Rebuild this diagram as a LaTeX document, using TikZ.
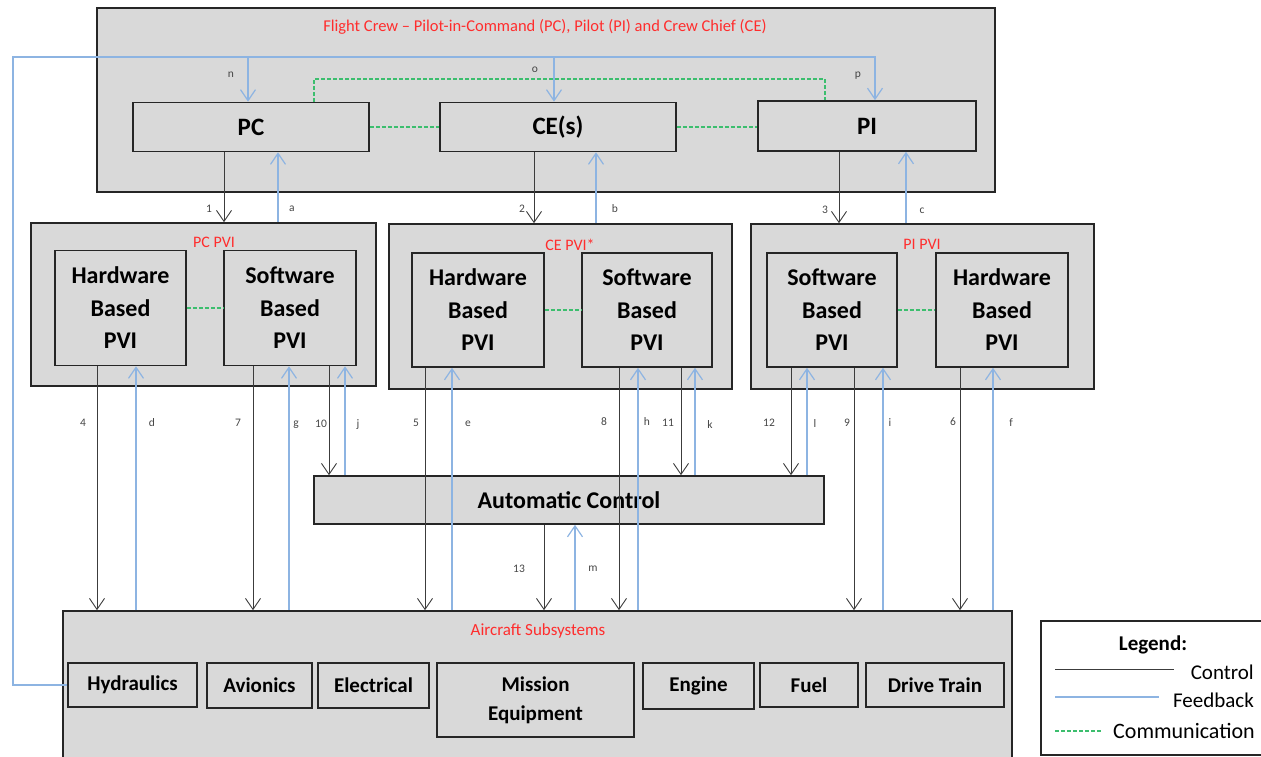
\documentclass[tikz,border=0pt]{standalone}
\usepackage{fontspec}
\setmainfont{Carlito}
\usetikzlibrary{arrows.meta}
\definecolor{boxgray}{RGB}{217,217,217}
\definecolor{ctlc}{RGB}{60,60,60}
\definecolor{fbc}{RGB}{141,180,226}
\definecolor{comc}{RGB}{60,190,110}
\definecolor{redlbl}{RGB}{255,45,45}
\definecolor{lblc}{RGB}{70,70,70}
\begin{document}
\begin{tikzpicture}[x=1pt,y=-1pt,
  panel/.style={draw=black!85, line width=1.6pt, fill=boxgray, inner sep=0pt, rectangle},
  bigtxt/.style={font=\fontsize{25}{30}\selectfont\bfseries},
  pvitxt/.style={font=\fontsize{24}{32.5}\selectfont\bfseries, align=center},
  subtxt/.style={font=\fontsize{21}{29}\selectfont\bfseries, align=center},
  redtxt/.style={text=redlbl, inner sep=0pt},
  tag/.style={font=\fontsize{11.5}{13}\selectfont, text=lblc, inner sep=0pt},
  tip/.style={-{Straight Barb[length=11pt,width=15pt]}},
  ctl/.style={draw=ctlc, line width=0.9pt, tip},
  fb/.style={draw=fbc, line width=1.2pt, tip},
  com/.style={draw=comc, line width=1.8pt, dash pattern=on 4pt off 2pt},
  legtxt/.style={font=\fontsize{21}{25}\selectfont, inner sep=0pt}]
\useasboundingbox (0,0) rectangle (1261,757);

% ---- containers ----
\node[panel, minimum width=898pt, minimum height=184pt] (crew) at (546,100) {};
\node[redtxt, font=\fontsize{16.5}{19}\selectfont] (crewtitle) at (545,27)
  {Flight Crew – Pilot-in-Command (PC), Pilot (PI) and Crew Chief (CE)};

\node[panel, minimum width=345pt, minimum height=163pt] (pcpvi) at (203.5,304.5) {};
\node[redtxt, font=\fontsize{16}{19}\selectfont] (pcpvititle) at (214,242) {PC PVI};
\node[panel, minimum width=343pt, minimum height=165pt] (cepvi) at (560.5,306.5) {};
\node[redtxt, font=\fontsize{16}{19}\selectfont] (cepvititle) at (570,245) {CE PVI*};
\node[panel, minimum width=343pt, minimum height=165pt] (pipvi) at (922.5,306.5) {};
\node[redtxt, font=\fontsize{16}{19}\selectfont] (pipvititle) at (922,244) {PI PVI};

\node[panel, minimum width=949pt, minimum height=170pt] (air) at (537.5,696) {};
\node[redtxt, font=\fontsize{17}{20}\selectfont] (airtitle) at (538,631) {Aircraft Subsystems};

% ---- crew members ----
\node[panel, bigtxt, minimum width=236pt, minimum height=49pt] (pc) at (251,127) {PC};
\node[panel, bigtxt, minimum width=236pt, minimum height=49pt] (ce) at (558,127) {CE(s)};
\node[panel, bigtxt, minimum width=218pt, minimum height=50pt] (pi) at (867,126) {PI};

% ---- pilot-vehicle interfaces ----
\node[panel, pvitxt, minimum width=131pt, minimum height=115pt] (pchw) at (120.5,308) {Hardware\\Based\\PVI};
\node[panel, pvitxt, minimum width=132pt, minimum height=115pt] (pcsw) at (290,308) {Software\\Based\\PVI};
\node[panel, pvitxt, minimum width=132pt, minimum height=114pt] (cehw) at (478,310) {Hardware\\Based\\PVI};
\node[panel, pvitxt, minimum width=130pt, minimum height=114pt] (cesw) at (647,310) {Software\\Based\\PVI};
\node[panel, pvitxt, minimum width=130pt, minimum height=114pt] (pisw) at (832,310) {Software\\Based\\PVI};
\node[panel, pvitxt, minimum width=132pt, minimum height=114pt] (pihw) at (1002,310) {Hardware\\Based\\PVI};

% ---- automatic control ----
\node[panel, font=\fontsize{24}{28}\selectfont\bfseries, minimum width=510pt, minimum height=48pt] (auto) at (569,500) {Automatic Control};

% ---- subsystems ----
\node[panel, subtxt, minimum width=129pt, minimum height=44pt] (hyd) at (132.5,685) {Hydraulics};
\node[panel, subtxt, minimum width=105pt, minimum height=45pt] (avi) at (259.5,685.5) {Avionics};
\node[panel, subtxt, minimum width=111pt, minimum height=45pt] (ele) at (373.5,685.5) {Electrical};
\node[panel, subtxt, minimum width=197pt, minimum height=74pt] (mis) at (535.5,700) {Mission\\Equipment};
\node[panel, subtxt, minimum width=111pt, minimum height=46pt] (eng) at (698.5,686) {Engine};
\node[panel, subtxt, minimum width=98pt, minimum height=44pt] (fuel) at (809,685) {Fuel};
\node[panel, subtxt, minimum width=138pt, minimum height=44pt] (dt) at (935,685) {Drive Train};

% ---- communication links ----
\coordinate (comtop) at (314,79);
\coordinate (comright) at (825,0);
\draw[com] (pc.north -| comtop) -- (comtop) -| (pi.north -| comright);
\draw[com] (pc.east) -- (ce.west);
\draw[com] (ce.east) -- (pi.west |- ce.east);
\draw[com] (pchw.east) -- (pcsw.west);
\draw[com] (cehw.east) -- (cesw.west);
\draw[com] (pisw.east) -- (pihw.west);

% ---- feedback from the hydraulics to the crew ----
\coordinate (busL) at (13,57);
\coordinate (xn) at (248,0);
\coordinate (xo) at (554,0);
\coordinate (xp) at (875,0);
\draw[fb] (hyd.west) -| (busL) -| (pi.north -| xp);
\draw[fb] (busL -| xn) -- (pc.north -| xn);
\draw[fb] (busL -| xo) -- (ce.north -| xo);
\node[tag] (tn) at (231,75) {n};
\node[tag] (to) at (535,70) {o};
\node[tag] (tp) at (858,76) {p};

% ---- crew to PVI ----
\coordinate (x1) at (224,0);  \coordinate (xa) at (278,0);
\coordinate (x2) at (534,0);  \coordinate (xb) at (596,0);
\coordinate (x3) at (839,0);  \coordinate (xc) at (906,0);
\draw[ctl] (pc.south -| x1) -- (pcpvi.north -| x1);
\draw[fb] (pcpvi.north -| xa) -- (pc.south -| xa);
\draw[ctl] (ce.south -| x2) -- (cepvi.north -| x2);
\draw[fb] (cepvi.north -| xb) -- (ce.south -| xb);
\draw[ctl] (pi.south -| x3) -- (pipvi.north -| x3);
\draw[fb] (pipvi.north -| xc) -- (pi.south -| xc);
\node[tag] (t1) at (209,209) {1};
\node[tag] (ta) at (292,209) {a};
\node[tag] (t2) at (522,209) {2};
\node[tag] (tb) at (615,209) {b};
\node[tag] (t3) at (825,210) {3};
\node[tag] (tc) at (922,211) {c};

% ---- PVI to subsystems and automatic control ----
\coordinate (x4) at (97,0);   \coordinate (xd) at (136,0);
\coordinate (x7) at (253,0);  \coordinate (xg) at (289,0);
\coordinate (x10) at (329,0); \coordinate (xj) at (345,0);
\coordinate (x5) at (425,0);  \coordinate (xe) at (452,0);
\coordinate (x8) at (619,0);  \coordinate (xh) at (638,0);
\coordinate (x11) at (681,0); \coordinate (xk) at (695,0);
\coordinate (x12) at (791,0); \coordinate (xl) at (807,0);
\coordinate (x9) at (854,0);  \coordinate (xi) at (883,0);
\coordinate (x6) at (960,0);  \coordinate (xf) at (993,0);
\coordinate (x13) at (544,0); \coordinate (xm) at (575,0);

\draw[ctl] (pchw.south -| x4) -- (air.north -| x4);
\draw[fb] (air.north -| xd) -- (pchw.south -| xd);
\draw[ctl] (pcsw.south -| x7) -- (air.north -| x7);
\draw[fb] (air.north -| xg) -- (pcsw.south -| xg);
\draw[ctl] (pcsw.south -| x10) -- (auto.north -| x10);
\draw[fb] (auto.north -| xj) -- (pcsw.south -| xj);
\draw[ctl] (cehw.south -| x5) -- (air.north -| x5);
\draw[fb] (air.north -| xe) -- (cehw.south -| xe);
\draw[ctl] (cesw.south -| x8) -- (air.north -| x8);
\draw[fb] (air.north -| xh) -- (cesw.south -| xh);
\draw[ctl] (cesw.south -| x11) -- (auto.north -| x11);
\draw[fb] (auto.north -| xk) -- (cesw.south -| xk);
\draw[ctl] (pisw.south -| x12) -- (auto.north -| x12);
\draw[fb] (auto.north -| xl) -- (pisw.south -| xl);
\draw[ctl] (pisw.south -| x9) -- (air.north -| x9);
\draw[fb] (air.north -| xi) -- (pisw.south -| xi);
\draw[ctl] (pihw.south -| x6) -- (air.north -| x6);
\draw[fb] (air.north -| xf) -- (pihw.south -| xf);
\draw[ctl] (auto.south -| x13) -- (air.north -| x13);
\draw[fb] (air.north -| xm) -- (auto.south -| xm);

\node[tag] (t4) at (83,423) {4};
\node[tag] (td) at (152,423) {d};
\node[tag] (t7) at (238,423) {7};
\node[tag] (tg) at (296,425) {g};
\node[tag] (t10) at (321,424) {10};
\node[tag] (tj) at (358,425) {j};
\node[tag] (t5) at (416,423) {5};
\node[tag] (te) at (468,424) {e};
\node[tag] (t8) at (604,422) {8};
\node[tag] (th) at (647,422) {h};
\node[tag] (t11) at (668,423) {11};
\node[tag] (tk) at (710,425) {k};
\node[tag] (t12) at (769,423) {12};
\node[tag] (tl) at (815,424) {l};
\node[tag] (t9) at (847,423) {9};
\node[tag] (ti) at (890,423) {i};
\node[tag] (t6) at (953,422) {6};
\node[tag] (tf) at (1011,423) {f};
\node[tag] (t13) at (519,569) {13};
\node[tag] (tm) at (593,569) {m};

% ---- legend ----
\node[draw=black!85, line width=1.6pt, fill=white, minimum width=240pt, minimum height=134pt, inner sep=0pt] (legend) at (1161,688) {};
\node[font=\fontsize{21}{25}\selectfont\bfseries, inner sep=0pt] (legtitle) at (1153,645) {Legend:};
\draw[draw=ctlc, line width=0.9pt] (1055,669) -- (1174,669);
\node[legtxt, anchor=east] (legctl) at (1254,672) {Control};
\draw[draw=fbc, line width=1.2pt] (1055,697) -- (1159,697);
\node[legtxt, anchor=east] (legfb) at (1254,700) {Feedback};
\draw[com] (1055,731) -- (1102,731);
\node[legtxt, anchor=west, font=\fontsize{22}{26}\selectfont] (legcom) at (1113,731) {Communication};
\end{tikzpicture}
\end{document}
